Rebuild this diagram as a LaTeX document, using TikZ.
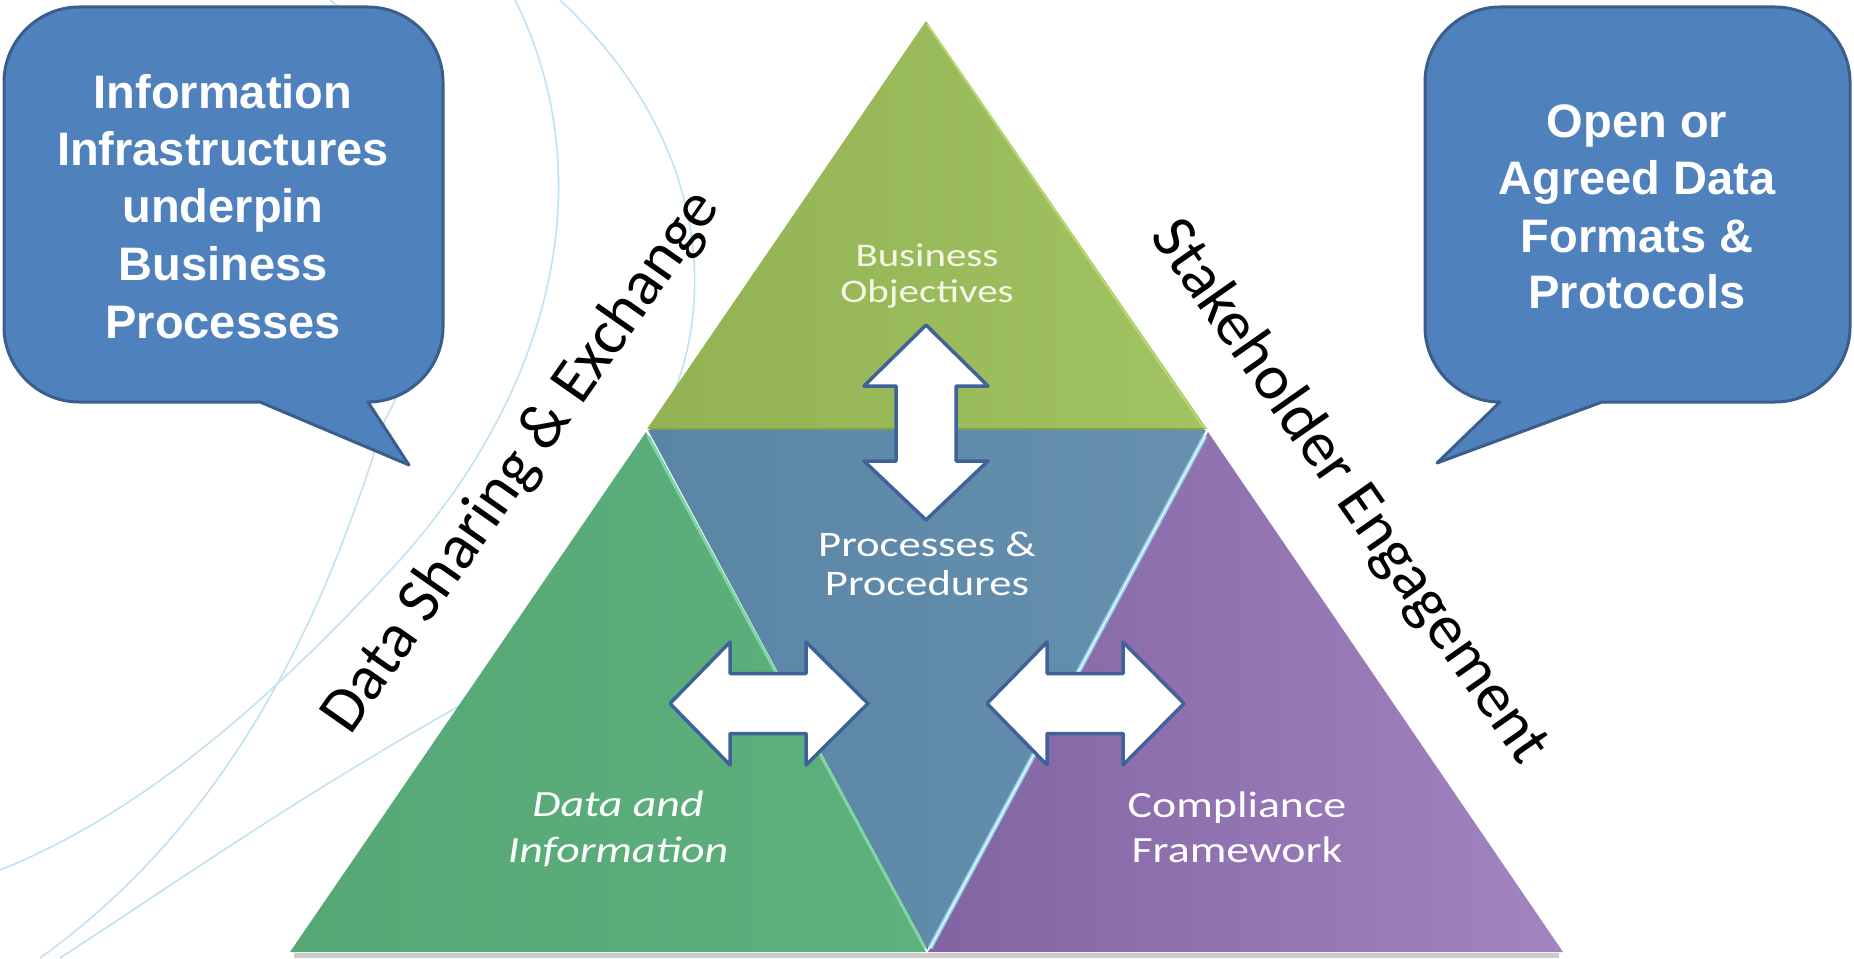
\documentclass[tikz,border=0pt]{standalone}
\usepackage{fontspec}
\usepackage{graphicx}
\setmainfont{Carlito}
\newfontfamily\bubblefont{Liberation Sans}
\newcommand\hs[1]{\scalebox{1.24}[1]{#1}}
\definecolor{cTopA}{HTML}{92B253}
\definecolor{cTopB}{HTML}{A2C362}
\definecolor{cBlueA}{HTML}{5A85A5}
\definecolor{cBlueB}{HTML}{6690AE}
\definecolor{cGreenA}{HTML}{55A775}
\definecolor{cGreenB}{HTML}{5EB17D}
\definecolor{cPurpA}{HTML}{8264A3}
\definecolor{cPurpB}{HTML}{A184C0}
\definecolor{cBubble}{HTML}{4F81BD}
\definecolor{cBubbleLine}{HTML}{3A5E8C}
\definecolor{cArrowLine}{HTML}{3F6399}
\definecolor{cArc}{HTML}{C3E2F1}
\definecolor{cCream}{HTML}{F5F7E8}
\definecolor{cHlGreen}{HTML}{80D6A2}
\definecolor{cHlBlue}{HTML}{8FCDE3}
\definecolor{cHlWhite}{HTML}{E6F8FF}
\definecolor{cHlOlive}{HTML}{B6D96E}
\definecolor{cDkOlive}{HTML}{80A04A}
\tikzset{
  arcline/.style={draw=cArc, line width=1.6pt},
  bubble/.style={fill=cBubble, draw=cBubbleLine, line width=3pt, line join=round},
  bubbletext/.style={anchor=base, text=white, inner sep=0pt,
    font=\bubblefont\bfseries\fontsize{47}{57}\selectfont},
  dblarrow/.style={fill=white, draw=cArrowLine, line width=3.5pt, line join=round},
  tritext/.style={anchor=base, text=white, inner sep=0pt},
  sidetext/.style={text=black, inner sep=0pt, font=\fontsize{64}{70}\selectfont}
}
\begin{document}
\begin{tikzpicture}[x=1pt,y=-1pt]
\useasboundingbox (0,0) rectangle (1854,958);
\fill[white] (0,0) rectangle (1854,958);

% background arcs
\draw[arcline] (515,0) .. controls (600,170) and (560,380) .. (400,560) .. controls (280,690) and (150,810) .. (0,870);
\draw[arcline] (560,0) .. controls (720,150) and (720,330) .. (650,440);
\draw[arcline] (330,0) .. controls (470,110) and (450,300) .. (385,420) .. controls (340,560) and (260,800) .. (40,958);
\draw[arcline] (60,958) .. controls (180,880) and (300,795) .. (470,700);

% speech bubbles
\draw[bubble] (260,402) -- (409,465) -- (368,402) .. controls (409,402) and (443,368) .. (443,327) -- (443,82) .. controls (443,41) and (409,7) .. (368,7) -- (79,7) .. controls (38,7) and (4,41) .. (4,82) -- (4,327) .. controls (4,368) and (38,402) .. (79,402) -- cycle;
\draw[bubble] (1602,402) -- (1437,463) -- (1500,402) .. controls (1459,402) and (1425,368) .. (1425,327) -- (1425,82) .. controls (1425,41) and (1459,7) .. (1500,7) -- (1775,7) .. controls (1816,7) and (1850,41) .. (1850,82) -- (1850,327) .. controls (1850,368) and (1816,402) .. (1775,402) -- cycle;

\node[bubbletext] (l1) at (223,108) {Information};
\node[bubbletext] (l2) at (223,165) {Infrastructures};
\node[bubbletext] (l3) at (223,222) {underpin};
\node[bubbletext] (l4) at (223,280) {Business};
\node[bubbletext] (l5) at (223,338) {Processes};

\node[bubbletext] (r1) at (1637,137) {Open or};
\node[bubbletext] (r2) at (1637,194) {Agreed Data};
\node[bubbletext] (r3) at (1637,252) {Formats \&};
\node[bubbletext] (r4) at (1637,308) {Protocols};

% base shadow
\draw[line width=5pt, color=black!20] (294,955) -- (1559,955);

% triangles
\shade[left color=cGreenA, right color=cGreenB] (646,432) -- (926,952) -- (290,952) -- cycle;
\shade[left color=cPurpA, right color=cPurpB] (1208,432) -- (1563,952) -- (928,952) -- cycle;
\shade[left color=cBlueA, right color=cBlueB] (648,430) -- (1206,430) -- (927,950) -- cycle;
\shade[left color=cTopA, right color=cTopB] (926,21) -- (1207,429) -- (647,429) -- cycle;

% bevel highlights
\draw[line width=3pt, color=cHlGreen] (648,436) -- (925,948);
\draw[line width=5pt, color=cHlBlue] (1205,436) -- (930,948);
\draw[line width=1.5pt, color=cHlWhite] (1205,436) -- (930,948);
\draw[line width=2pt, color=cHlOlive] (927,24) -- (1204,428);
\draw[line width=2pt, color=cDkOlive] (650,429) -- (1204,429);

% double arrows
\draw[dblarrow] (926,325) -- (988,386) -- (956,386) -- (956,461) -- (988,461) -- (926,520) -- (864,461) -- (896,461) -- (896,386) -- (864,386) -- cycle;
\draw[dblarrow] (670,703.5) -- (730,642) -- (730,673.5) -- (806,673.5) -- (806,642) -- (868,703.5) -- (806,765) -- (806,733.5) -- (730,733.5) -- (730,765) -- cycle;
\draw[dblarrow] (987,703.5) -- (1047,642) -- (1047,673.5) -- (1123,673.5) -- (1123,642) -- (1184,703.5) -- (1123,765) -- (1123,733.5) -- (1047,733.5) -- (1047,765) -- cycle;

% triangle labels
\node[tritext, text=cCream, font=\fontsize{33}{40}\selectfont] (bo1) at (927,266) {\hs{Business}};
\node[tritext, text=cCream, font=\fontsize{33}{40}\selectfont] (bo2) at (927,302) {\hs{Objectives}};
\node[tritext, font=\fontsize{36}{42}\selectfont] (pp1) at (927,556) {\hs{Processes \&}};
\node[tritext, font=\fontsize{36}{42}\selectfont] (pp2) at (927,595) {\hs{Procedures}};
\node[tritext, font=\itshape\fontsize{37}{44}\selectfont] (di1) at (618,816) {\hs{Data and}};
\node[tritext, font=\itshape\fontsize{37}{44}\selectfont] (di2) at (618,862) {\hs{Information}};
\node[tritext, font=\fontsize{37}{44}\selectfont] (cf1) at (1237,817) {\hs{Compliance}};
\node[tritext, font=\fontsize{37}{44}\selectfont] (cf2) at (1237,862) {\hs{Framework}};

% side labels
\node[sidetext, rotate=55] (dse) at (522,462) {Data Sharing \& Exchange};
\node[sidetext, rotate=-55] (ske) at (1349,492) {Stakeholder Engagement};
\end{tikzpicture}
\end{document}
